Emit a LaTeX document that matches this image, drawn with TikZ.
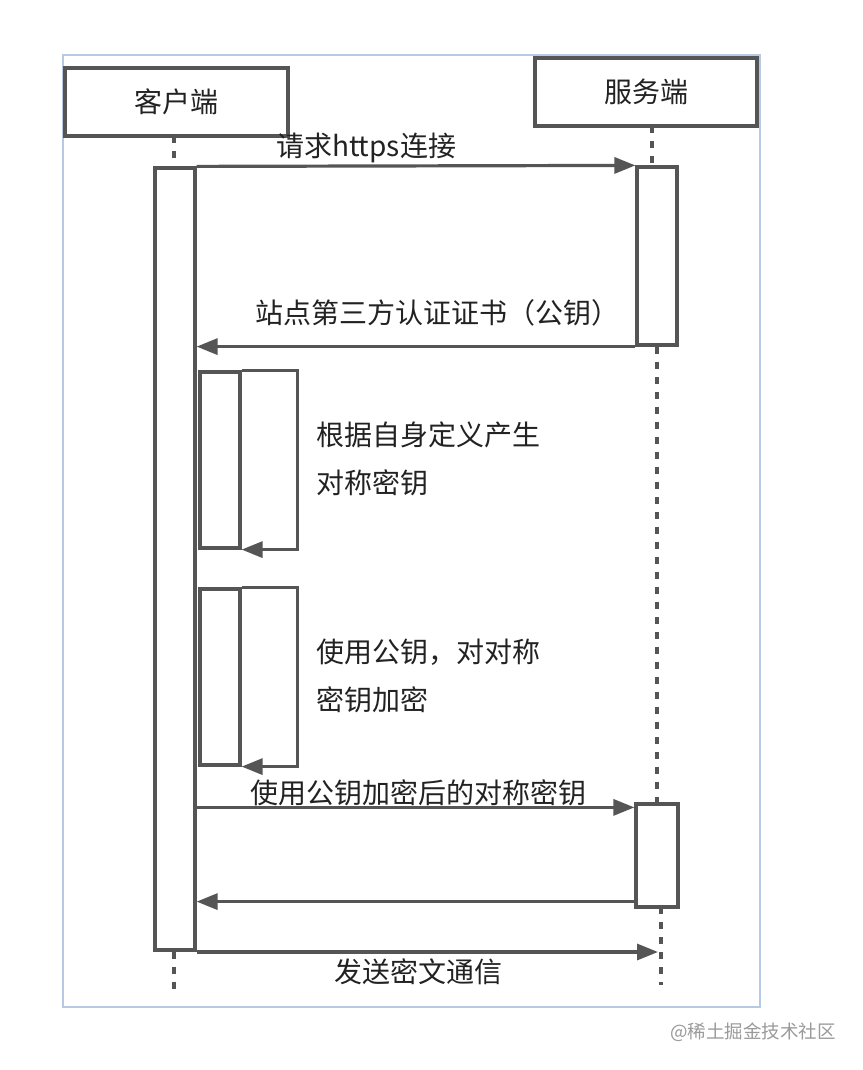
\documentclass[tikz,border=0pt]{standalone}
\usepackage{fontspec}
\setmainfont{Noto Sans CJK SC}
\usetikzlibrary{arrows.meta,calc}
\definecolor{ln}{HTML}{555555}
\definecolor{fr}{HTML}{B6CAE4}
\definecolor{wm}{HTML}{9A9A9A}
\definecolor{tx}{HTML}{222222}
\begin{document}
\begin{tikzpicture}[x=1pt,y=-1pt,
  hdr/.style={draw=ln,line width=3.4pt,fill=white,inner sep=0pt,font=\fontsize{28}{32}\selectfont,text=tx},
  act/.style={draw=ln,line width=3.2pt,fill=white,inner sep=0pt},
  msg/.style={draw=ln,line width=3.2pt,-{Triangle[length=21pt,width=16pt]}},
  life/.style={draw=ln,line width=3.2pt,dash pattern=on 7pt off 8pt},
  lbl/.style={font=\fontsize{28}{32}\selectfont,text=tx,inner sep=0pt},
  note/.style={font=\fontsize{28}{48}\selectfont,text=tx,inner sep=0pt,align=left,anchor=west},
  frame/.style={draw=fr,line width=1.5pt}]
\useasboundingbox (0,0) rectangle (862,1070);
\fill[white] (0,0) rectangle (862,1070);
\draw[frame] (63,55) rectangle (760,1007);
% headers
\node[hdr,minimum width=223pt,minimum height=68pt] (client) at (176.5,102) {客户端};
\node[hdr,minimum width=222pt,minimum height=68pt] (server) at (646,92) {服务端};
% lifeline coordinates
\coordinate (ct) at (174,136);
\coordinate (cb) at (174,996);
\coordinate (st) at (652,126);
\coordinate (sm1) at (657,345);
\coordinate (sm2) at (657,804);
\coordinate (sb1) at (661,907);
\coordinate (sb) at (661,985);
\coordinate (s5) at (658,952);
% activations
\node[act,minimum width=40pt,minimum height=782pt] (cact) at (175,559) {};
\node[act,minimum width=40pt,minimum height=178pt] (sact1) at (657,256) {};
\node[act,minimum width=42pt,minimum height=103pt] (sact2) at (657,855.5) {};
\node[act,minimum width=40pt,minimum height=176pt] (self1) at (220,460) {};
\node[act,minimum width=40pt,minimum height=176pt] (self2) at (220,677) {};
% lifelines
\draw[life] (ct) -- (cact.north -| ct);
\draw[life] (cact.south -| cb) -- (cb);
\draw[life] (st) -- (sact1.north -| st);
\draw[life] (sact1.south -| sm1) -- (sm2);
\draw[life] (sb1) -- (sb);
% messages
\draw[msg] (cact.north east) -- (sact1.north west);
\node[lbl] (l1) at (366,148) {请求https连接};
\draw[msg] (sact1.south west) -- (sact1.south west -| cact.east);
\node[lbl] (l2) at (437,313) {站点第三方认证证书（公钥）};
\draw[msg] (self1.north east) -- ++(56,0) |- (self1.south east);
\node[note] (n1) at (316,459) {根据自身定义产生\\对称密钥};
\draw[msg] (self2.north east) -- ++(56,0) |- (self2.south east);
\node[note] (n2) at (316,676) {使用公钥，对对称\\密钥加密};
\draw[msg] ([yshift=-5pt]sact2.north west -| cact.east) -- ([yshift=-5pt]sact2.north west);
\node[lbl] (l3) at (418,793) {使用公钥加密后的对称密钥};
\draw[msg] ([yshift=7pt]sact2.south west) -- ([yshift=7pt]sact2.south west -| cact.east);
\draw[msg] (s5 -| cact.east) -- (s5);
\node[lbl] (l5) at (418,972) {发送密文通信};
\node[font=\fontsize{18.5}{22}\selectfont,text=wm,inner sep=0pt] (wmk) at (753,1032) {@稀土掘金技术社区};
\end{tikzpicture}
\end{document}
